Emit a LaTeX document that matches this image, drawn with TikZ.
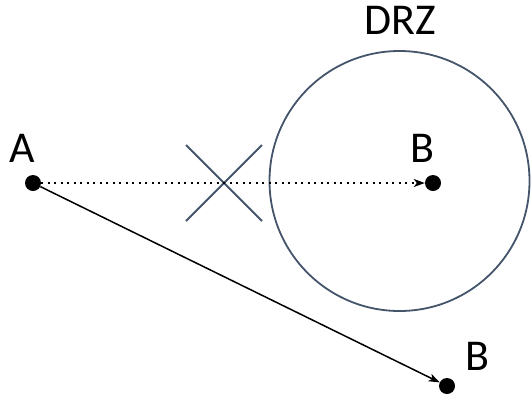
\documentclass[tikz,border=0pt]{standalone}
\usepackage{fontspec}
\setmainfont{Carlito}
\usetikzlibrary{arrows.meta}
\definecolor{slate}{HTML}{44546A}
\begin{document}
\begin{tikzpicture}[x=1pt,y=-1pt,
  dot/.style={circle,fill=black,inner sep=0pt,minimum size=16pt},
  lbl/.style={font=\fontsize{44}{44}\selectfont,inner sep=0pt},
  conn/.style={line width=1.5pt,-{Stealth[length=11pt,width=8pt,inset=3pt]}},
  ring/.style={draw=slate,line width=1.8pt}]
\useasboundingbox (0,0) rectangle (532,397);
\node[dot] (A) at (33,183) {};
\node[dot] (B1) at (433,183) {};
\node[dot] (B2) at (447,386) {};
\node[ring,circle,minimum size=260pt,inner sep=0pt] (drz) at (399.5,181) {};
\node[lbl] (tA) at (22,148) {A};
\node[lbl] (tB1) at (422,148) {B};
\node[lbl] (tB2) at (477,356) {B};
\node[lbl] (tD) at (400,20) {DRZ};
\coordinate (x1) at (186,145);
\coordinate (x2) at (262,221);
\coordinate (x3) at (262,145);
\coordinate (x4) at (186,221);
\draw[slate,line width=1.8pt] (x1) -- (x2);
\draw[slate,line width=1.8pt] (x3) -- (x4);
\draw[conn,dash pattern=on 2pt off 4.5pt] (A) -- (B1);
\draw[conn] (A) -- (B2);
\end{tikzpicture}
\end{document}
